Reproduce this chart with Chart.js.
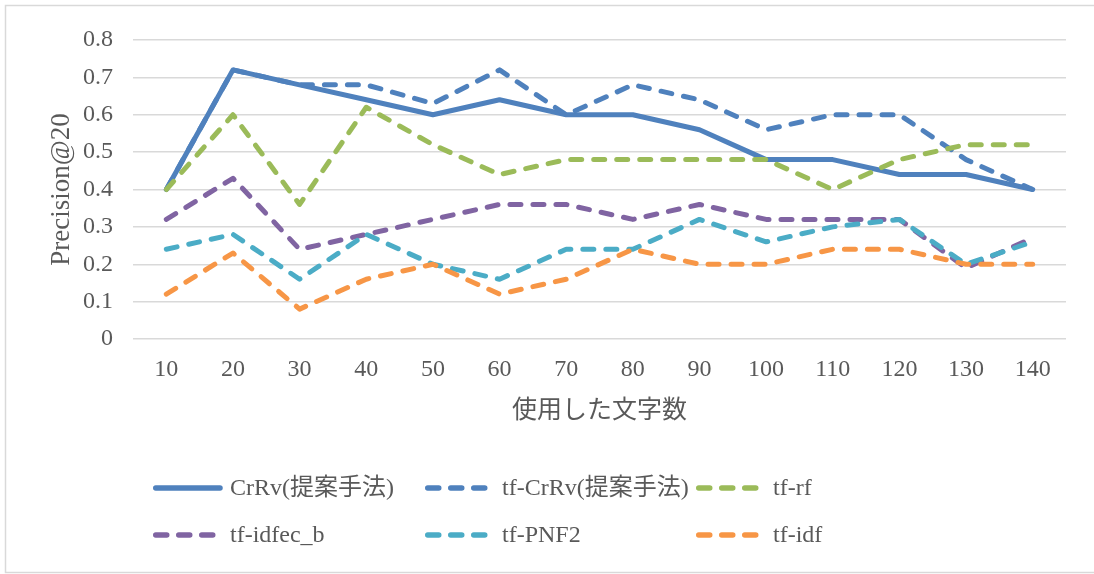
<!DOCTYPE html>
<html>
<head>
<meta charset="utf-8">
<script src="https://cdn.jsdelivr.net/npm/chart.js@4/dist/chart.umd.min.js"></script>
<style>
  html, body { margin: 0; padding: 0; background: #ffffff; }
  #wrap { position: relative; width: 1094px; height: 574px; }
</style>
</head>
<body>
<div id="wrap"><canvas id="chart" width="1094" height="574"></canvas></div>
<script>
// Number of characters used (x categories)
const charCounts = [10, 20, 30, 40, 50, 60, 70, 80, 90, 100, 110, 120, 130, 140];

// Precision@20 per method
const crrv      = [0.40, 0.72, 0.68, 0.64, 0.60, 0.64, 0.60, 0.60, 0.56, 0.48, 0.48, 0.44, 0.44, 0.40];
const tfCrrv    = [0.40, 0.72, 0.68, 0.68, 0.63, 0.72, 0.60, 0.68, 0.64, 0.56, 0.60, 0.60, 0.48, 0.40];
const tfRf      = [0.40, 0.60, 0.36, 0.62, 0.52, 0.44, 0.48, 0.48, 0.48, 0.48, 0.40, 0.48, 0.52, 0.52];
const tfIdfecB  = [0.32, 0.43, 0.24, 0.28, 0.32, 0.36, 0.36, 0.32, 0.36, 0.32, 0.32, 0.32, 0.19, 0.27];
const tfPnf2    = [0.24, 0.28, 0.16, 0.28, 0.20, 0.16, 0.24, 0.24, 0.32, 0.26, 0.30, 0.32, 0.20, 0.26];
const tfIdf     = [0.12, 0.23, 0.08, 0.16, 0.20, 0.12, 0.16, 0.24, 0.20, 0.20, 0.24, 0.24, 0.20, 0.20];

const seriesNames = ['CrRv(提案手法)', 'tf-CrRv(提案手法)', 'tf-rf', 'tf-idfec_b', 'tf-PNF2', 'tf-idf'];

// Axis labels
const xTitle = '使用した文字数';
const yTitle = 'Precision@20';
const yTicks = [0, 0.1, 0.2, 0.3, 0.4, 0.5, 0.6, 0.7, 0.8];

const colors = ['#4F81BD', '#4F81BD', '#9BBB59', '#8064A2', '#4BACC6', '#F79646'];
const values = [crrv, tfCrrv, tfRf, tfIdfecB, tfPnf2, tfIdf];

const TEXT = '#595959';
const SERIF = '"Liberation Serif", "Times New Roman", "Noto Sans CJK JP", serif';
const CJK = '"Noto Sans CJK JP", "Liberation Serif", sans-serif';
const DASH = [11, 12];

const datasets = values.map((v, i) => ({
  label: seriesNames[i],
  data: v,
  borderColor: colors[i],
  backgroundColor: colors[i],
  borderWidth: 5,
  borderDash: i === 0 ? [] : DASH,
  borderCapStyle: i === 0 ? 'butt' : 'round',
  borderJoinStyle: 'round',
  pointRadius: 0,
  pointHoverRadius: 0,
  tension: 0,
  fill: false,
  order: values.length - i   // later series are painted on top
}));

// Outer frame, axis titles and the two-row legend
const decorations = {
  id: 'decorations',
  beforeDraw(chart) {
    const ctx = chart.ctx;
    ctx.save();
    ctx.fillStyle = '#ffffff';
    ctx.fillRect(0, 0, chart.width, chart.height);
    ctx.strokeStyle = '#D9D9D9';
    ctx.lineWidth = 1.5;
    ctx.strokeRect(5.5, 5.5, chart.width + 10, chart.height - 7);
    ctx.restore();
  },
  afterDraw(chart) {
    const ctx = chart.ctx;
    const area = chart.chartArea;
    ctx.save();
    ctx.fillStyle = TEXT;
    ctx.textAlign = 'center';
    ctx.textBaseline = 'middle';

    // x-axis title
    ctx.font = '25px ' + CJK;
    ctx.fillText(xTitle, (area.left + area.right) / 2, 408);

    // y-axis title
    ctx.save();
    ctx.translate(62, (area.top + area.bottom) / 2);
    ctx.rotate(-Math.PI / 2);
    ctx.font = '27px ' + SERIF;
    ctx.fillText(yTitle, 0, 0);
    ctx.restore();

    // legend
    const colX = [153, 425, 696];
    const rowY = [488, 535];
    const sampleLen = 62;
    ctx.textAlign = 'left';
    ctx.font = '24px ' + SERIF;
    chart.data.datasets.forEach((ds, i) => {
      const x = colX[i % 3];
      const y = rowY[Math.floor(i / 3)];
      ctx.save();
      ctx.strokeStyle = ds.borderColor;
      ctx.lineWidth = 5.5;
      ctx.lineCap = 'round';
      ctx.beginPath();
      if (ds.borderDash.length) {
        ctx.setLineDash(ds.borderDash);
        ctx.moveTo(x + 2.75, y);
        ctx.lineTo(x + sampleLen, y);
      } else {
        ctx.moveTo(x + 2.75, y);
        ctx.lineTo(x + 67, y);
      }
      ctx.stroke();
      ctx.restore();
      ctx.fillStyle = TEXT;
      ctx.fillText(ds.label, x + 77, y + 1);
    });
    ctx.restore();
  }
};

new Chart(document.getElementById('chart'), {
  type: 'line',
  data: { labels: charCounts, datasets },
  options: {
    responsive: false,
    animation: false,
    events: [],
    layout: { padding: { left: 0, top: 40, right: 28, bottom: 0 } },
    plugins: {
      legend: { display: false },
      tooltip: { enabled: false },
      title: { display: false }
    },
    scales: {
      x: {
        offset: true,
        grid: { display: false, drawTicks: false },
        border: { display: false },
        ticks: {
          color: TEXT,
          font: { family: SERIF, size: 24 },
          padding: 16,
          maxRotation: 0,
          autoSkip: false
        },
        afterFit(scale) { scale.height = 235; }
      },
      y: {
        min: yTicks[0],
        max: yTicks[yTicks.length - 1],
        afterBuildTicks(scale) { scale.ticks = yTicks.map(v => ({ value: v })); },
        grid: { color: '#D9D9D9', lineWidth: 1.5, drawTicks: false },
        border: { display: false },
        ticks: {
          color: TEXT,
          font: { family: SERIF, size: 24 },
          padding: 20,
          callback: v => (v === 0 ? '0' : v.toFixed(1))
        },
        afterFit(scale) { scale.width = 133; }
      }
    }
  },
  plugins: [decorations]
});
</script>
</body>
</html>
